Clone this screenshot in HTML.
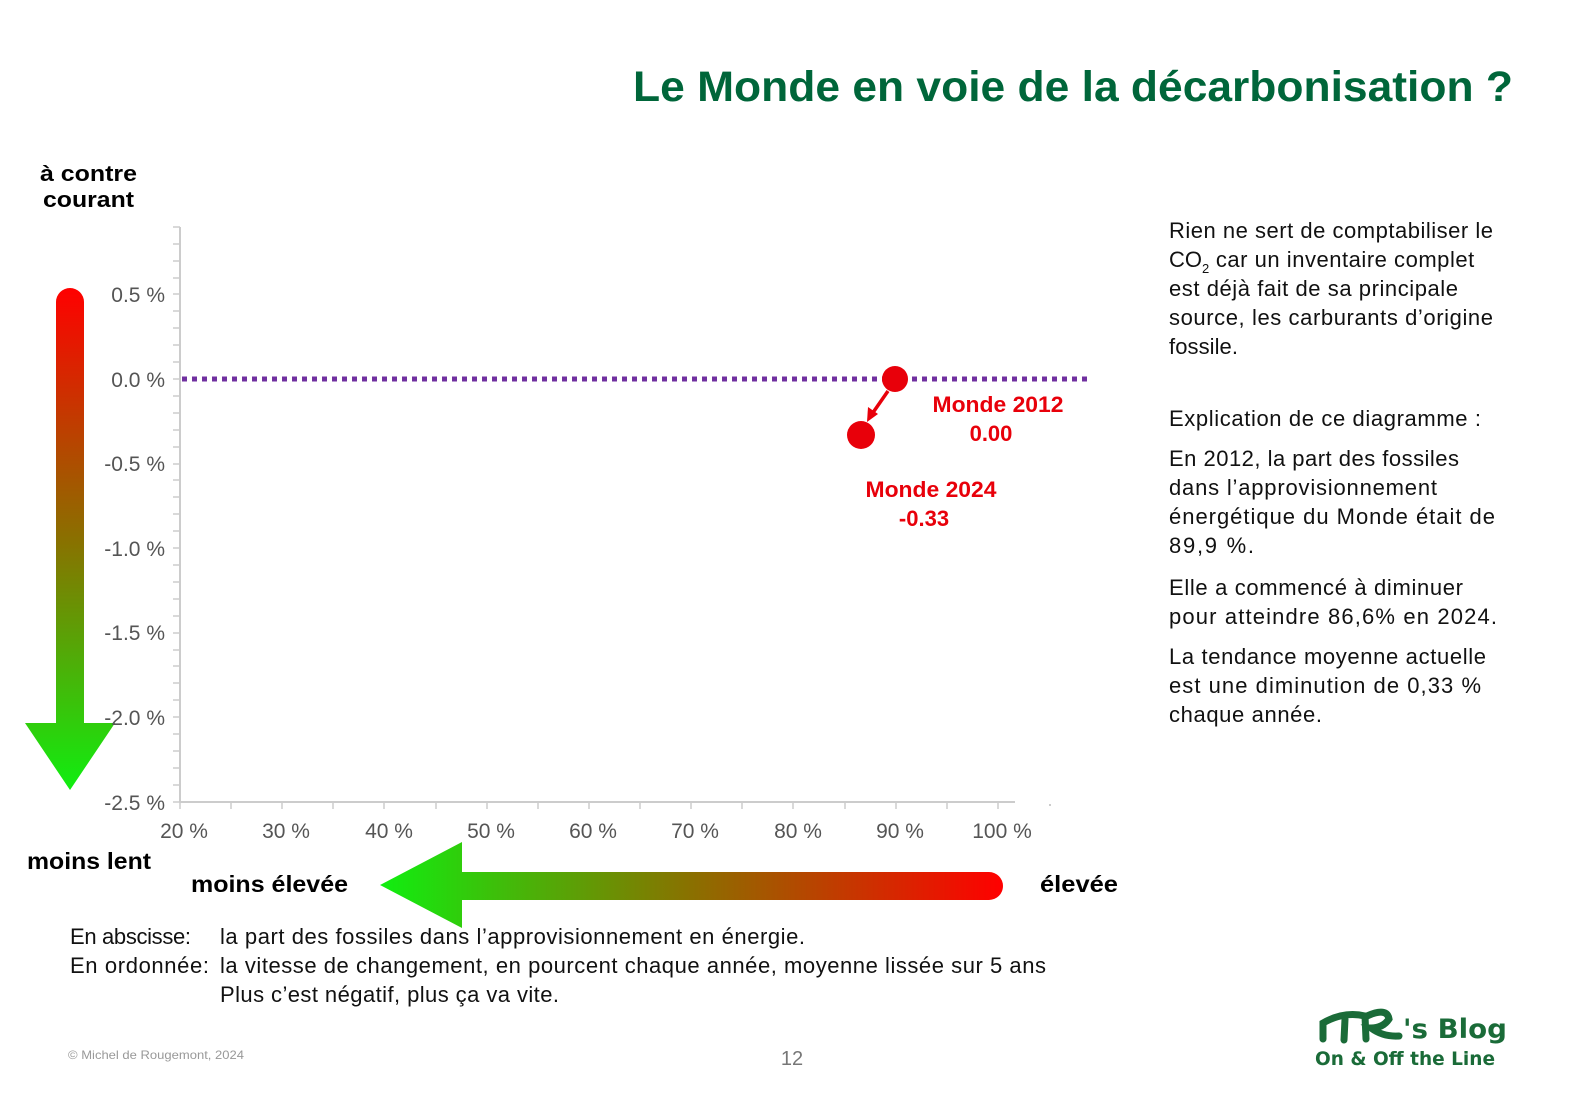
<!DOCTYPE html>
<html><head><meta charset="utf-8">
<style>
html,body{margin:0;padding:0;background:#fff;}
svg{display:block;}
</style></head>
<body>
<svg width="1580" height="1117" viewBox="0 0 1580 1117" xmlns="http://www.w3.org/2000/svg">
<defs>
<linearGradient id="gv" x1="0" y1="0" x2="0" y2="1">
<stop offset="0" stop-color="#ff0000"/><stop offset="0.5" stop-color="#8a7000"/><stop offset="1" stop-color="#10ee10"/>
</linearGradient>
<linearGradient id="gh" x1="0" y1="0" x2="1" y2="0">
<stop offset="0" stop-color="#10ee10"/><stop offset="0.5" stop-color="#8a7000"/><stop offset="1" stop-color="#ff0000"/>
</linearGradient>
</defs>
<g font-family="Liberation Sans, sans-serif">
<text x="1513" y="101" text-anchor="end" font-size="43" font-weight="bold" fill="#00663a" textLength="880" lengthAdjust="spacingAndGlyphs">Le Monde en voie de la décarbonisation ?</text>

<text x="40" y="181" font-size="22" font-weight="bold" textLength="97" lengthAdjust="spacingAndGlyphs">à contre</text>
<text x="43" y="207" font-size="22" font-weight="bold" textLength="91" lengthAdjust="spacingAndGlyphs">courant</text>

<path d="M56,302 A14,14 0 0 1 84,302 L84,723 L115,723 L70,790 L25,723 L56,723 Z" fill="url(#gv)"/>

<line x1="180" y1="227" x2="180" y2="802" stroke="#ccc" stroke-width="2"/>
<line x1="180" y1="802" x2="1015" y2="802" stroke="#ccc" stroke-width="2"/>
<rect x="1049" y="804" width="2" height="2" fill="#ccc"/>
<g stroke="#ccc" stroke-width="1.5">
<line x1="173" y1="227" x2="180" y2="227"/>
<line x1="173" y1="244" x2="180" y2="244"/><line x1="173" y1="261" x2="180" y2="261"/><line x1="173" y1="278" x2="180" y2="278"/><line x1="173" y1="294" x2="180" y2="294"/><line x1="173" y1="311" x2="180" y2="311"/><line x1="173" y1="328" x2="180" y2="328"/><line x1="173" y1="345" x2="180" y2="345"/><line x1="173" y1="362" x2="180" y2="362"/><line x1="173" y1="379" x2="180" y2="379"/><line x1="173" y1="396" x2="180" y2="396"/><line x1="173" y1="413" x2="180" y2="413"/><line x1="173" y1="430" x2="180" y2="430"/><line x1="173" y1="447" x2="180" y2="447"/><line x1="173" y1="464" x2="180" y2="464"/><line x1="173" y1="480" x2="180" y2="480"/><line x1="173" y1="497" x2="180" y2="497"/><line x1="173" y1="514" x2="180" y2="514"/><line x1="173" y1="531" x2="180" y2="531"/><line x1="173" y1="548" x2="180" y2="548"/><line x1="173" y1="565" x2="180" y2="565"/><line x1="173" y1="582" x2="180" y2="582"/><line x1="173" y1="599" x2="180" y2="599"/><line x1="173" y1="616" x2="180" y2="616"/><line x1="173" y1="633" x2="180" y2="633"/><line x1="173" y1="650" x2="180" y2="650"/><line x1="173" y1="666" x2="180" y2="666"/><line x1="173" y1="683" x2="180" y2="683"/><line x1="173" y1="700" x2="180" y2="700"/><line x1="173" y1="717" x2="180" y2="717"/><line x1="173" y1="734" x2="180" y2="734"/><line x1="173" y1="751" x2="180" y2="751"/><line x1="173" y1="768" x2="180" y2="768"/><line x1="173" y1="785" x2="180" y2="785"/><line x1="173" y1="802" x2="180" y2="802"/>
<line x1="180" y1="802" x2="180" y2="809"/><line x1="231" y1="802" x2="231" y2="809"/><line x1="282" y1="802" x2="282" y2="809"/><line x1="333" y1="802" x2="333" y2="809"/><line x1="384" y1="802" x2="384" y2="809"/><line x1="436" y1="802" x2="436" y2="809"/><line x1="487" y1="802" x2="487" y2="809"/><line x1="538" y1="802" x2="538" y2="809"/><line x1="589" y1="802" x2="589" y2="809"/><line x1="640" y1="802" x2="640" y2="809"/><line x1="691" y1="802" x2="691" y2="809"/><line x1="742" y1="802" x2="742" y2="809"/><line x1="793" y1="802" x2="793" y2="809"/><line x1="845" y1="802" x2="845" y2="809"/><line x1="896" y1="802" x2="896" y2="809"/><line x1="947" y1="802" x2="947" y2="809"/><line x1="998" y1="802" x2="998" y2="809"/>
</g>
<g font-size="21" fill="#555" text-anchor="end">
<text x="165" y="302">0.5 %</text><text x="165" y="387">0.0 %</text><text x="165" y="471">-0.5 %</text><text x="165" y="556">-1.0 %</text><text x="165" y="640">-1.5 %</text><text x="165" y="725">-2.0 %</text><text x="165" y="810">-2.5 %</text>
</g>
<g font-size="21" fill="#555" text-anchor="middle">
<text x="184" y="838">20 %</text><text x="286" y="838">30 %</text><text x="389" y="838">40 %</text><text x="491" y="838">50 %</text><text x="593" y="838">60 %</text><text x="695" y="838">70 %</text><text x="798" y="838">80 %</text><text x="900" y="838">90 %</text><text x="1002" y="838">100 %</text>
</g>

<line x1="182" y1="379" x2="1092" y2="379" stroke="#7030a0" stroke-width="5" stroke-dasharray="5,5"/>

<circle cx="895" cy="379" r="13" fill="#e8000a"/>
<circle cx="861" cy="435" r="14" fill="#e8000a"/>
<line x1="888" y1="391" x2="872" y2="414" stroke="#e8000a" stroke-width="3.5"/>
<polygon points="867,422 868,407 878,414" fill="#e8000a"/>
<g font-size="22" font-weight="bold" fill="#e8000a" text-anchor="middle">
<text x="998" y="412" textLength="131" lengthAdjust="spacingAndGlyphs">Monde 2012</text><text x="991" y="441">0.00</text>
<text x="931" y="497" textLength="131" lengthAdjust="spacingAndGlyphs">Monde 2024</text><text x="924" y="526">-0.33</text>
</g>

<path d="M380,885 L462,842 L462,872 L989,872 A14,14 0 0 1 989,900 L462,900 L462,928 Z" fill="url(#gh)"/>

<text x="27" y="869" font-size="23" font-weight="bold" textLength="124" lengthAdjust="spacingAndGlyphs">moins lent</text>
<text x="191" y="892" font-size="23" font-weight="bold" textLength="157" lengthAdjust="spacingAndGlyphs">moins élevée</text>
<text x="1040" y="892" font-size="23" font-weight="bold" textLength="78" lengthAdjust="spacingAndGlyphs">élevée</text>

<g font-size="22" fill="#111" lengthAdjust="spacingAndGlyphs">
<text x="70" y="944" textLength="121">En abscisse:</text><text x="220" y="944" textLength="585">la part des fossiles dans l’approvisionnement en énergie.</text>
<text x="70" y="973" textLength="139">En ordonnée:</text><text x="220" y="973" textLength="826">la vitesse de changement, en pourcent chaque année, moyenne lissée sur 5 ans</text>
<text x="220" y="1002" textLength="339">Plus c’est négatif, plus ça va vite.</text>
</g>

<g font-size="22" fill="#111" lengthAdjust="spacingAndGlyphs">
<text x="1169" y="238" textLength="324">Rien ne sert de comptabiliser le</text>
<text x="1169" y="267">CO<tspan font-size="13" dy="6">2</tspan><tspan dy="-6" textLength="265"> car un inventaire complet</tspan></text>
<text x="1169" y="296" textLength="289">est déjà fait de sa principale</text>
<text x="1169" y="325" textLength="324">source, les carburants d’origine</text>
<text x="1169" y="354" textLength="69">fossile.</text>
<text x="1169" y="426" textLength="312">Explication de ce diagramme :</text>
<text x="1169" y="466" textLength="290">En 2012, la part des fossiles</text>
<text x="1169" y="495" textLength="268">dans l’approvisionnement</text>
<text x="1169" y="524" textLength="326">énergétique du Monde était de</text>
<text x="1169" y="553" textLength="85">89,9 %.</text>
<text x="1169" y="595" textLength="294">Elle a commencé à diminuer</text>
<text x="1169" y="624" textLength="328">pour atteindre 86,6% en 2024.</text>
<text x="1169" y="664" textLength="317">La tendance moyenne actuelle</text>
<text x="1169" y="693" textLength="312">est une diminution de 0,33 %</text>
<text x="1169" y="722" textLength="153">chaque année.</text>
</g>

<text x="68" y="1059" font-size="12" fill="#999" textLength="176" lengthAdjust="spacingAndGlyphs">© Michel de Rougemont, 2024</text>
<text x="792" y="1065" font-size="20" fill="#777" text-anchor="middle">12</text>

<g transform="translate(9,7)">
<g fill="none" stroke="#1a6b38" stroke-width="7" stroke-linecap="round">
<path d="M1314,1032 L1314,1016 Q1335,1004 1356,1009"/>
<path d="M1336,1012 L1335,1033"/>
<path d="M1356,1009 L1357,1032"/>
<path d="M1358,1009 Q1378,1000 1380,1012 Q1374,1021 1362,1021 Q1374,1030 1390,1029"/>
</g>
<text x="1394" y="1031" font-size="27" font-weight="bold" fill="#1a6b38" font-family="DejaVu Sans, sans-serif" textLength="104" lengthAdjust="spacingAndGlyphs">'s Blog</text>
<text x="1306" y="1058" font-size="19" font-weight="bold" fill="#1a6b38" font-family="DejaVu Sans, sans-serif" textLength="180" lengthAdjust="spacingAndGlyphs">On &amp; Off the Line</text>
</g>
</g>
</svg>
</body></html>
